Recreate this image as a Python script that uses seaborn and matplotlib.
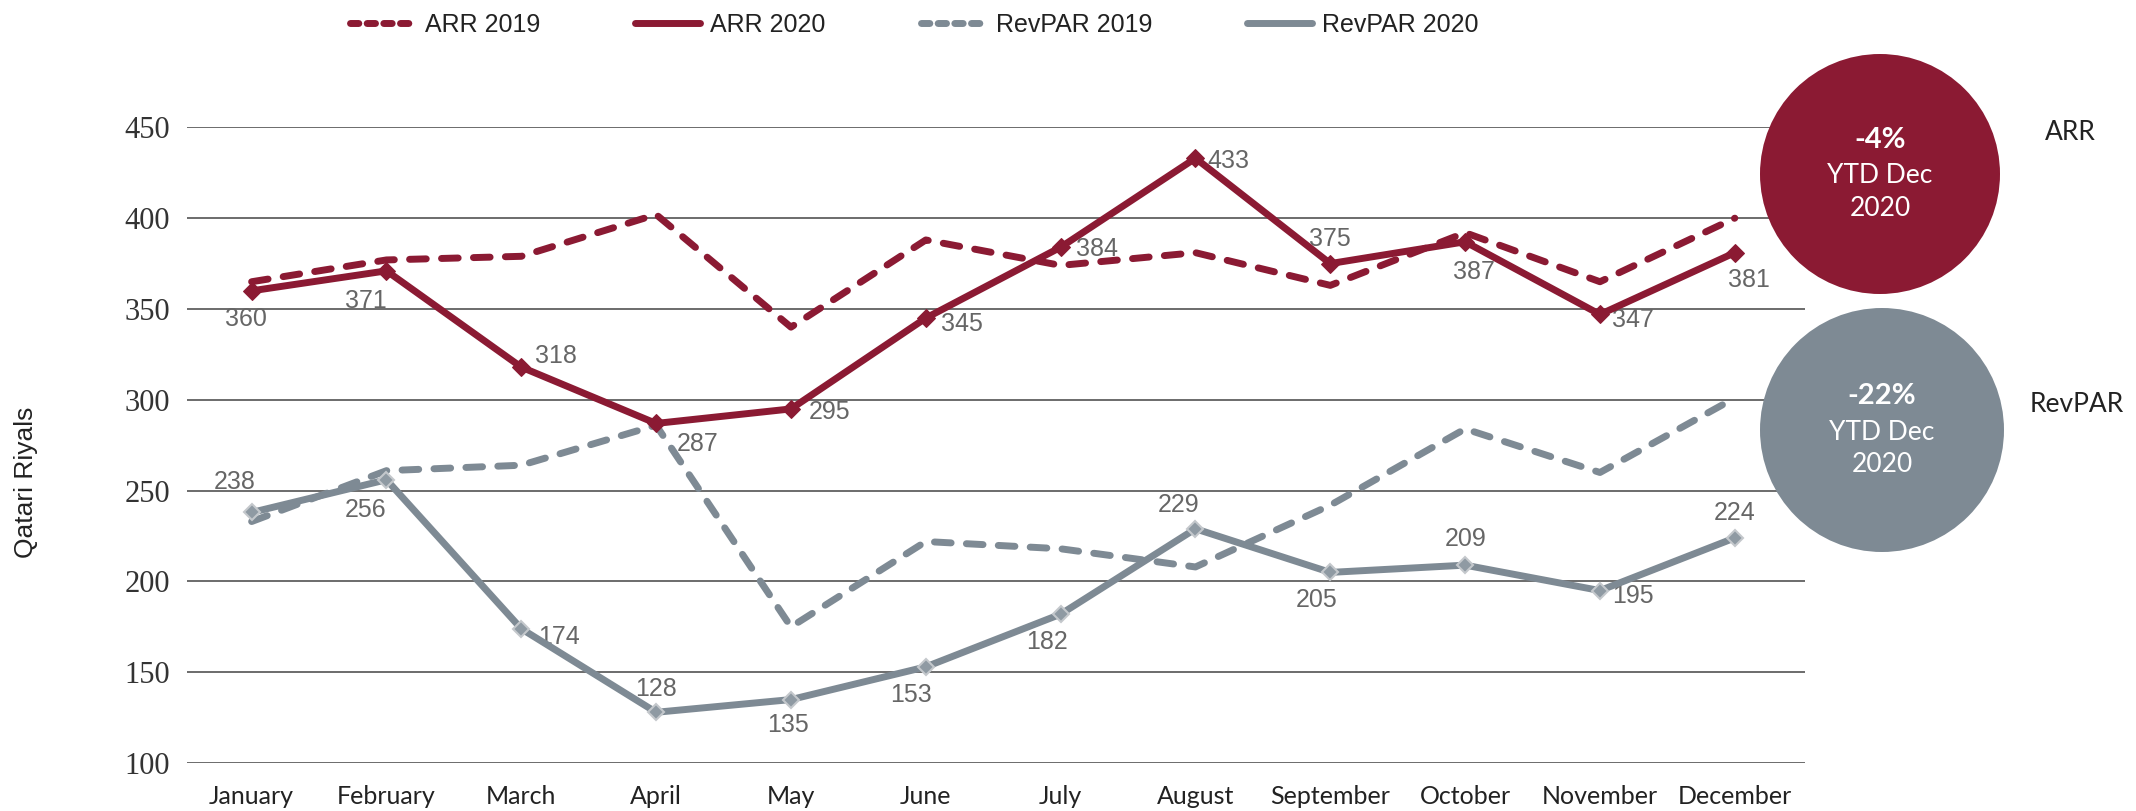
import numpy as np
import pandas as pd
import matplotlib
matplotlib.use("Agg")
import matplotlib.pyplot as plt
from matplotlib.lines import Line2D
from matplotlib.patches import Circle
import seaborn as sns

months = ['January', 'February', 'March', 'April', 'May', 'June', 'July',
          'August', 'September', 'October', 'November', 'December']
arr_2019 = [365, 377, 379, 402, 340, 388, 374, 381, 363, 392, 365, 400]
arr_2020 = [360, 371, 318, 287, 295, 345, 384, 433, 375, 387, 347, 381]
revpar_2019 = [233, 261, 264, 286, 175, 222, 218, 208, 242, 284, 260, 301]
revpar_2020 = [238, 256, 174, 128, 135, 153, 182, 229, 205, 209, 195, 224]
y_ticks = [100, 150, 200, 250, 300, 350, 400, 450]
arr_ytd = '-4%'
revpar_ytd = '-22%'

# label offsets in points (dx, dy), picked by eye
arr_offsets = [(-4, -20), (-15, -22), (25, 8), (30, -15), (28, -2), (26, -4),
               (26, -1), (24, -2), (0, 18), (6, -22), (24, -4), (10, -20)]
rev_offsets = [(-12, 22), (-15, -22), (27, -6), (0, 17), (-2, -18), (-11, -20),
               (-10, -20), (-12, 17), (-10, -20), (0, 19), (24, -4), (0, 18)]

MAROON = '#8b1a33'
GREY = '#7e8a94'
LABEL = '#666666'

sns.set_style('white')
plt.rcParams['font.family'] = ['Liberation Serif', 'DejaVu Serif']
narrow = ['Liberation Sans', 'DejaVu Sans']
soft = ['Lato', 'DejaVu Sans']

df = pd.DataFrame({'month': months, 'ARR 2019': arr_2019, 'ARR 2020': arr_2020,
                   'RevPAR 2019': revpar_2019, 'RevPAR 2020': revpar_2020})
df['x'] = np.arange(len(months))

fig = plt.figure(figsize=(21.36, 8.11), dpi=100)
ax = fig.add_axes([0.0875, 0.059, 0.7575, 0.784])

lw = 5
dash = (0, (2.4, 2.2))
sns.lineplot(data=df, x='x', y='ARR 2019', ax=ax, color=MAROON, lw=lw,
             linestyle=dash, dash_capstyle='round', sort=False, zorder=3)
sns.lineplot(data=df, x='x', y='RevPAR 2019', ax=ax, color=GREY, lw=lw,
             linestyle=dash, dash_capstyle='round', sort=False, zorder=3)
sns.lineplot(data=df, x='x', y='RevPAR 2020', ax=ax, color=GREY, lw=lw,
             marker='D', markersize=8, markerfacecolor='#8f9aa3',
             markeredgecolor='#c4c8cc', markeredgewidth=1.5, sort=False, zorder=4)
sns.lineplot(data=df, x='x', y='ARR 2020', ax=ax, color=MAROON, lw=lw,
             marker='D', markersize=9, markerfacecolor=MAROON,
             markeredgecolor=MAROON, sort=False, zorder=5)

for i, v in enumerate(arr_2020):
    ax.annotate(str(v), (i, v), xytext=arr_offsets[i], textcoords='offset points',
                ha='center', va='center', fontsize=18, color=LABEL, family=narrow)
for i, v in enumerate(revpar_2020):
    ax.annotate(str(v), (i, v), xytext=rev_offsets[i], textcoords='offset points',
                ha='center', va='center', fontsize=18, color=LABEL, family=narrow)

ax.set_xlim(-0.48, 11.52)
ax.set_ylim(100, 450)
ax.set_yticks(y_ticks)
ax.set_xticks(range(len(months)))
ax.set_xticklabels(months, fontsize=18, color='#222222', family=soft)
ax.tick_params(axis='y', labelsize=22, colors='#333333', length=0, pad=12)
ax.tick_params(axis='x', length=0, pad=16)
ax.grid(axis='y', color='#444444', lw=1.1)
ax.set_axisbelow(True)
sns.despine(ax=ax, left=True, bottom=True, top=True, right=True)
ax.set_xlabel('')
ax.set_ylabel('')
fig.text(0.012, 0.405, 'Qatari Riyals', rotation=90, va='center', ha='center',
         fontsize=19, color='#222222', family=narrow)

handles = [
    Line2D([], [], color=MAROON, lw=lw, linestyle=(0, (1.2, 1.2)), dash_capstyle='round'),
    Line2D([], [], color=MAROON, lw=lw),
    Line2D([], [], color=GREY, lw=lw, linestyle=(0, (1.2, 1.2)), dash_capstyle='round'),
    Line2D([], [], color=GREY, lw=lw),
]
leg = fig.legend(handles, ['ARR 2019', 'ARR 2020', 'RevPAR 2019', 'RevPAR 2020'],
                 loc='center', bbox_to_anchor=(0.428, 0.969), ncol=4, frameon=False,
                 handlelength=2.6, handletextpad=0.4, columnspacing=3.8,
                 prop={'family': narrow, 'size': 18})
for t in leg.get_texts():
    t.set_color('#222222')

# YTD bubbles
fig.add_artist(Circle((18.80, 6.37), 1.20, transform=fig.dpi_scale_trans,
                      color=MAROON, lw=0))
fig.add_artist(Circle((18.82, 3.81), 1.22, transform=fig.dpi_scale_trans,
                      color=GREY, lw=0))
for cx, cy, pct in [(18.80, 6.37, arr_ytd), (18.82, 3.81, revpar_ytd)]:
    fig.text(cx / 21.36, (cy + 0.34) / 8.11, pct, ha='center', va='center',
             fontsize=21, fontweight='bold', color='white', family=soft)
    fig.text(cx / 21.36, (cy - 0.02) / 8.11, 'YTD Dec', ha='center', va='center',
             fontsize=19, color='white', family=soft)
    fig.text(cx / 21.36, (cy - 0.35) / 8.11, '2020', ha='center', va='center',
             fontsize=19, color='white', family=soft)
fig.text(20.70 / 21.36, 1 - 132 / 811, 'ARR', ha='center', va='center',
         fontsize=19, color='#222222', family=soft)
fig.text(20.77 / 21.36, 1 - 404 / 811, 'RevPAR', ha='center', va='center',
         fontsize=19, color='#222222', family=soft)

fig.savefig('out.png', dpi=100)
